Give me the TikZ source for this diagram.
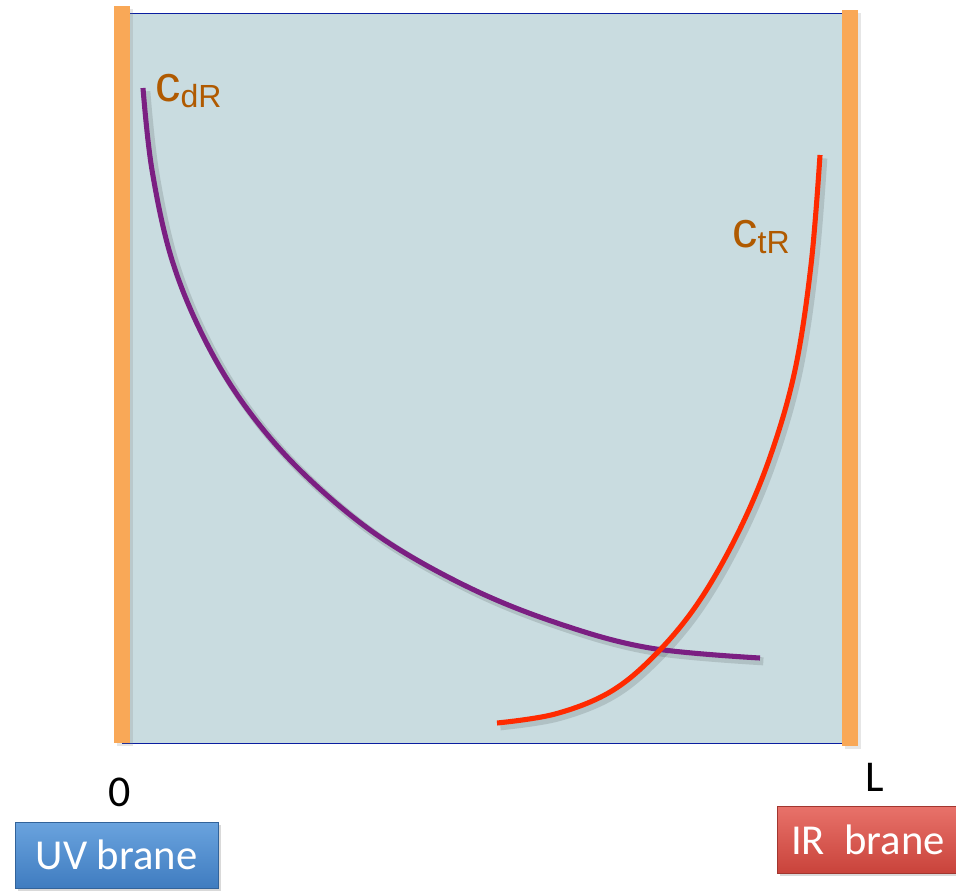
\documentclass[tikz,border=0pt]{standalone}
\usepackage{fontspec}
\setmainfont{Carlito}
\newfontfamily\arialf{Liberation Sans}
\usetikzlibrary{shadows,fadings}
\definecolor{bulk}{HTML}{C9DCE0}
\definecolor{brane}{HTML}{F9A857}
\definecolor{edge}{HTML}{0A1EA0}
\definecolor{purp}{HTML}{7B1F82}
\definecolor{redc}{HTML}{FF2A00}
\definecolor{labc}{HTML}{B05A00}
\definecolor{uvtop}{HTML}{6AA3DE}
\definecolor{uvbot}{HTML}{3F7CC0}
\definecolor{irtop}{HTML}{E8726A}
\definecolor{irbot}{HTML}{C9433B}
\tikzset{
  curve/.style={line width=3.8pt, line cap=butt},
  shadowline/.style={line width=6pt, draw=black, opacity=0.12},
  clabel/.style={text=labc, font=\arialf\fontsize{38}{40}\selectfont, inner sep=0pt, anchor=base west},
  tick/.style={font=\fontsize{33}{36}\selectfont, inner sep=0pt},
  branebox/.style={minimum height=49.5pt, inner sep=0pt, text=white, font=\fontsize{32}{34}\selectfont, drop shadow={shadow xshift=2pt, shadow yshift=-2pt, opacity=0.3}}
}
\begin{document}
\begin{tikzpicture}[x=0.75pt,y=-0.75pt]
\useasboundingbox (0,0) rectangle (956,890);
% bulk
\node[draw=edge, line width=1.1pt, fill=bulk, minimum width=546pt, minimum height=547.5pt, inner sep=0pt, anchor=north west] (bulk) at (122,13) {};
% branes
\node[fill=brane, minimum width=12pt, minimum height=552.75pt, inner sep=0pt, anchor=north west, drop shadow={shadow xshift=2pt, shadow yshift=-2pt, opacity=0.2}] (uv) at (114,6) {};
\node[fill=brane, minimum width=12pt, minimum height=552pt, inner sep=0pt, anchor=north west, drop shadow={shadow xshift=2pt, shadow yshift=-2pt, opacity=0.2}] (ir) at (842,10) {};
% shadows of curves
\begin{scope}[xshift=2.5pt, yshift=-2.5pt]
\draw[shadowline] plot[smooth, tension=0.6] coordinates {(143,88) (152,170) (172,260) (205,340) (248,410) (305,475) (380,537) (470,588) (560,624) (650,648) (760,658)};
\draw[shadowline] plot[smooth, tension=0.6] coordinates {(497,723) (555,714) (610,692) (655,655) (698,603) (738,533) (770,457) (795,370) (811,265) (820,155)};
\end{scope}
% curves
\draw[curve, purp] plot[smooth, tension=0.6] coordinates {(143,88) (152,170) (172,260) (205,340) (248,410) (305,475) (380,537) (470,588) (560,624) (650,648) (760,658)};
\draw[curve, redc] plot[smooth, tension=0.6] coordinates {(497,723) (555,714) (610,692) (655,655) (698,603) (738,533) (770,457) (795,370) (811,265) (820,155)};
% labels
\node[clabel] (cdr) at (155,101) {c\raisebox{-5pt}{\fontsize{24}{26}\selectfont dR}};
\node[clabel] (ctr) at (732,247) {c\raisebox{-5pt}{\fontsize{24}{26}\selectfont tR}};
\node[tick] (zero) at (120,792) {0};
\node[tick] (ell) at (875,777) {L};
% brane boxes
\node[branebox, minimum width=152pt, top color=uvtop, bottom color=uvbot, draw=uvbot!80!black, line width=0.4pt, anchor=north west] (uvbox) at (15,822) {UV brane};
\node[branebox, minimum width=136pt, top color=irtop, bottom color=irbot, draw=irbot!80!black, line width=0.4pt, anchor=north west, minimum height=50pt] (irbox) at (777,806) {IR\ \ brane};
\end{tikzpicture}
\end{document}
